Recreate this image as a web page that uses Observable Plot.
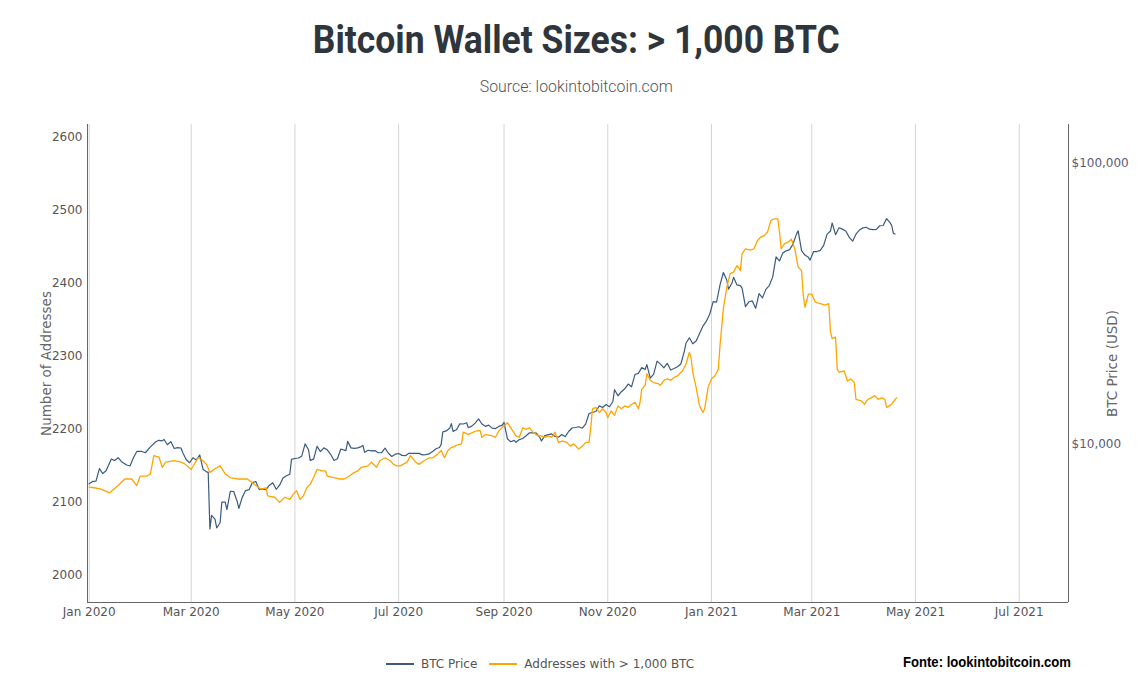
<!DOCTYPE html>
<html>
<head>
<meta charset="utf-8">
<script src="https://cdn.jsdelivr.net/npm/d3@7"></script>
<script src="https://cdn.jsdelivr.net/npm/@observablehq/plot@0.6"></script>
<style>
  html, body { margin: 0; padding: 0; background: #fff; }
  #page { position: relative; width: 1138px; height: 688px; overflow: hidden; background: #fff; }
  .center-row { position: absolute; left: 0; width: 1153px; text-align: center; white-space: nowrap; }
  #title span { display: inline-block; font-family: Roboto, "Liberation Sans", sans-serif; font-weight: 700; font-size: 38px; line-height: 38px; color: #2f353c; transform-origin: center; }
  #subtitle span { display: inline-block; font-family: Roboto, "Liberation Sans", sans-serif; font-weight: 300; font-size: 16px; line-height: 16px; color: #555; transform-origin: center; }
  #chart { position: absolute; left: 0; top: 105px; width: 1138px; height: 530px; }
  #chart svg { position: absolute; left: 0; top: 0; }
  #legend { position: absolute; left: 386px; top: 657px; height: 14px; display: flex; align-items: center; font-family: "DejaVu Sans", Verdana, sans-serif; font-size: 12px; color: #555; white-space: nowrap; }
  #legend .sw { display: inline-block; width: 28px; height: 0; border-top: 2px solid; margin-right: 7px; }
  #legend .item { display: flex; align-items: center; margin-right: 12px; }
  #fonte { position: absolute; left: 903px; top: 654px; font-family: "Liberation Sans Narrow", "Liberation Sans", Arial, sans-serif; font-weight: 700; font-size: 14px; line-height: 16px; color: #000; white-space: nowrap; transform-origin: left center; display: inline-block; }
  svg g[aria-label="y-axis label"], svg g[aria-label="y-axis label"] text { font-size: 13.5px !important; fill: #666 !important; }
</style>
</head>
<body>
<div id="page">
  <div id="title" class="center-row" style="top:21px"><span>Bitcoin Wallet Sizes: &gt; 1,000 BTC</span></div>
  <div id="subtitle" class="center-row" style="top:78px"><span>Source: lookintobitcoin.com</span></div>
  <div id="chart"></div>
  <div id="legend"></div>
  <span id="fonte">Fonte: lookintobitcoin.com</span>
</div>
<script>
// ---------- DATA ----------
const seriesNames = ["BTC Price", "Addresses with > 1,000 BTC"];
const seriesColors = ["#3b5a80", "#ffa500"];

const addrDates = [
"2020-01-01","2020-01-04","2020-01-08","2020-01-13","2020-01-18","2020-01-22","2020-01-26","2020-01-29","2020-01-31","2020-02-04",
"2020-02-06","2020-02-08","2020-02-11","2020-02-13","2020-02-15","2020-02-20","2020-02-24","2020-02-26","2020-03-01","2020-03-05",
"2020-03-07","2020-03-10","2020-03-12","2020-03-15","2020-03-18","2020-03-21","2020-03-24","2020-03-28","2020-04-03","2020-04-07",
"2020-04-11","2020-04-14","2020-04-15","2020-04-19","2020-04-22","2020-04-25","2020-04-28","2020-04-30","2020-05-02","2020-05-04",
"2020-05-06","2020-05-08","2020-05-10","2020-05-12","2020-05-14","2020-05-17","2020-05-19","2020-05-20","2020-05-24","2020-05-27",
"2020-05-30","2020-06-02","2020-06-05","2020-06-07","2020-06-09","2020-06-13","2020-06-15","2020-06-18","2020-06-20","2020-06-23",
"2020-06-26","2020-06-28","2020-06-30","2020-07-02","2020-07-06","2020-07-08","2020-07-11","2020-07-13","2020-07-16","2020-07-19",
"2020-07-21","2020-07-24","2020-07-26","2020-07-28","2020-07-30","2020-08-01","2020-08-04","2020-08-07","2020-08-08","2020-08-11",
"2020-08-14","2020-08-16","2020-08-18","2020-08-19","2020-08-21","2020-08-25","2020-08-27","2020-08-29","2020-09-01","2020-09-03",
"2020-09-05","2020-09-08","2020-09-10","2020-09-12","2020-09-14","2020-09-16","2020-09-18","2020-09-21","2020-09-23","2020-09-25",
"2020-09-27","2020-09-29","2020-10-01","2020-10-03","2020-10-05","2020-10-08","2020-10-10","2020-10-12","2020-10-14","2020-10-15",
"2020-10-17","2020-10-19","2020-10-21","2020-10-22","2020-10-23","2020-10-25","2020-10-27","2020-10-29","2020-10-31","2020-11-01",
"2020-11-03","2020-11-05","2020-11-07","2020-11-09","2020-11-11","2020-11-13","2020-11-15","2020-11-17","2020-11-19","2020-11-20",
"2020-11-21","2020-11-23","2020-11-24","2020-11-26","2020-11-28","2020-12-01","2020-12-02","2020-12-04","2020-12-06","2020-12-08",
"2020-12-10","2020-12-12","2020-12-15","2020-12-17","2020-12-19","2020-12-20","2020-12-21","2020-12-23","2020-12-25","2020-12-27",
"2020-12-28","2020-12-30","2021-01-01","2021-01-03","2021-01-05","2021-01-06","2021-01-08","2021-01-10","2021-01-12","2021-01-14",
"2021-01-16","2021-01-17","2021-01-18","2021-01-19","2021-01-21","2021-01-24","2021-01-26","2021-01-28","2021-01-30","2021-02-01",
"2021-02-03","2021-02-05","2021-02-07","2021-02-09","2021-02-10","2021-02-11","2021-02-13","2021-02-15","2021-02-17","2021-02-19",
"2021-02-21","2021-02-23","2021-02-24","2021-02-25","2021-02-27","2021-03-01","2021-03-03","2021-03-06","2021-03-09","2021-03-11",
"2021-03-12","2021-03-13","2021-03-15","2021-03-16","2021-03-17","2021-03-20","2021-03-22","2021-03-24","2021-03-26","2021-03-27",
"2021-03-30","2021-04-01","2021-04-03","2021-04-05","2021-04-07","2021-04-09","2021-04-11","2021-04-13","2021-04-14","2021-04-17",
"2021-04-19","2021-04-20"
];
const addrValues = [
2121,2120,2118,2113,2123,2132,2132,2123,2136,2136,
2139,2164,2162,2148,2155,2157,2155,2153,2145,2161,
2159,2152,2141,2146,2150,2139,2134,2132,2132,2125,
2118,2120,2109,2107,2100,2107,2104,2111,2116,2104,
2109,2120,2125,2134,2145,2143,2143,2136,2134,2132,
2132,2136,2141,2143,2148,2150,2155,2148,2157,2161,
2157,2152,2150,2150,2155,2164,2155,2152,2157,2161,
2161,2166,2171,2161,2171,2175,2178,2180,2196,2193,
2196,2198,2198,2189,2193,2191,2189,2198,2205,2209,
2202,2191,2189,2202,2200,2202,2196,2191,2191,2189,
2191,2189,2196,2182,2184,2182,2177,2180,2175,2173,
2177,2182,2182,2202,2228,2230,2223,2228,2223,2216,
2225,2219,2232,2228,2232,2230,2234,2237,2228,2237,
2255,2260,2276,2267,2264,2262,2260,2267,2269,2267,
2271,2273,2280,2289,2305,2298,2278,2257,2232,2223,
2228,2257,2269,2273,2282,2314,2365,2394,2413,2415,
2424,2421,2417,2440,2447,2445,2447,2458,2463,2465,
2470,2486,2488,2488,2470,2447,2454,2456,2460,2447,
2422,2417,2383,2367,2385,2385,2374,2372,2370,2372,
2333,2324,2326,2282,2278,2280,2266,2269,2264,2241,
2239,2234,2241,2243,2246,2241,2243,2241,2230,2234,
2241,2243
];

const priceDates = [
"2020-01-01","2020-01-03","2020-01-05","2020-01-07","2020-01-09","2020-01-11","2020-01-14","2020-01-16","2020-01-18","2020-01-20",
"2020-01-23","2020-01-25","2020-01-27","2020-01-29","2020-02-01","2020-02-03","2020-02-06","2020-02-09","2020-02-11","2020-02-13",
"2020-02-14","2020-02-16","2020-02-18","2020-02-20","2020-02-22","2020-02-24","2020-02-25","2020-02-27","2020-02-29","2020-03-02",
"2020-03-04","2020-03-06","2020-03-08","2020-03-10","2020-03-11","2020-03-12","2020-03-13","2020-03-15","2020-03-16","2020-03-18",
"2020-03-19","2020-03-21","2020-03-22","2020-03-24","2020-03-26","2020-03-28","2020-03-29","2020-03-31","2020-04-02","2020-04-04",
"2020-04-06","2020-04-08","2020-04-10","2020-04-12","2020-04-14","2020-04-16","2020-04-18","2020-04-20","2020-04-22","2020-04-24",
"2020-04-26","2020-04-28","2020-04-29","2020-05-01","2020-05-03","2020-05-05","2020-05-07","2020-05-09","2020-05-10","2020-05-12",
"2020-05-14","2020-05-16","2020-05-18","2020-05-20","2020-05-22","2020-05-24","2020-05-26","2020-05-28","2020-05-31","2020-06-01",
"2020-06-03","2020-06-05","2020-06-07","2020-06-09","2020-06-10","2020-06-11","2020-06-13","2020-06-15","2020-06-17","2020-06-19",
"2020-06-21","2020-06-23","2020-06-25","2020-06-27","2020-06-29","2020-07-01","2020-07-03","2020-07-05","2020-07-07","2020-07-09",
"2020-07-11","2020-07-13","2020-07-15","2020-07-17","2020-07-19","2020-07-21","2020-07-23","2020-07-25","2020-07-26","2020-07-27",
"2020-07-29","2020-07-31","2020-08-01","2020-08-02","2020-08-04","2020-08-06","2020-08-08","2020-08-10","2020-08-11","2020-08-13",
"2020-08-15","2020-08-17","2020-08-19","2020-08-21","2020-08-23","2020-08-25","2020-08-27","2020-08-29","2020-08-31","2020-09-01",
"2020-09-03","2020-09-05","2020-09-07","2020-09-08","2020-09-10","2020-09-12","2020-09-14","2020-09-16","2020-09-18","2020-09-20",
"2020-09-22","2020-09-23","2020-09-25","2020-09-27","2020-09-29","2020-10-01","2020-10-03","2020-10-05","2020-10-07","2020-10-09",
"2020-10-11","2020-10-13","2020-10-15","2020-10-17","2020-10-19","2020-10-21","2020-10-23","2020-10-25","2020-10-27","2020-10-29",
"2020-10-31","2020-11-02","2020-11-04","2020-11-05","2020-11-07","2020-11-09","2020-11-11","2020-11-13","2020-11-15","2020-11-17",
"2020-11-19","2020-11-21","2020-11-23","2020-11-24","2020-11-26","2020-11-28","2020-11-30","2020-12-02","2020-12-04","2020-12-06",
"2020-12-08","2020-12-10","2020-12-12","2020-12-14","2020-12-16","2020-12-17","2020-12-19","2020-12-21","2020-12-23","2020-12-25",
"2020-12-27","2020-12-29","2020-12-31","2021-01-02","2021-01-04","2021-01-06","2021-01-08","2021-01-10","2021-01-11","2021-01-13",
"2021-01-14","2021-01-16","2021-01-18","2021-01-19","2021-01-21","2021-01-23","2021-01-25","2021-01-27","2021-01-29","2021-01-31",
"2021-02-02","2021-02-04","2021-02-06","2021-02-08","2021-02-10","2021-02-12","2021-02-14","2021-02-16","2021-02-18","2021-02-20",
"2021-02-21","2021-02-23","2021-02-25","2021-02-27","2021-02-28","2021-03-02","2021-03-04","2021-03-06","2021-03-08","2021-03-10",
"2021-03-12","2021-03-13","2021-03-15","2021-03-17","2021-03-19","2021-03-21","2021-03-23","2021-03-25","2021-03-27","2021-03-29",
"2021-03-31","2021-04-02","2021-04-04","2021-04-06","2021-04-08","2021-04-10","2021-04-12","2021-04-14","2021-04-16","2021-04-17",
"2021-04-18","2021-04-19"
];
const priceValues = [
7200,7340,7360,8160,7830,8030,8820,8720,8920,8630,
8400,8330,8910,9390,9390,9290,9750,10150,10290,10240,
10360,9920,10180,9620,9690,9660,9310,8790,8560,8910,
8760,9120,8110,7940,7910,4970,5560,5390,5010,5230,
6190,6190,5830,6770,6760,6240,5880,6440,6810,6860,
7270,7340,6870,6910,6860,7120,7260,6880,7120,7550,
7690,7790,8800,8860,8900,9030,9990,9520,8730,8820,
9790,9380,9670,9520,9170,8720,8840,9580,9450,10200,
9670,9630,9670,9770,9870,9320,9480,9430,9460,9290,
9300,9650,9250,9010,9180,9230,9090,9070,9250,9240,
9240,9240,9130,9150,9210,9390,9600,9700,9930,11030,
11110,11350,11800,11070,11220,11770,11760,11880,11410,11560,
11850,12260,11760,11540,11650,11370,11330,11530,11650,11920,
10400,10170,10280,10120,10350,10440,10680,10940,10930,10920,
10530,10240,10690,10780,10840,10620,10550,10790,10600,11060,
11380,11430,11500,11360,11750,12820,12930,13030,13650,13460,
13800,13550,14150,15590,14830,15330,15700,16320,15960,17650,
17820,18680,18400,19150,17150,17720,19700,19220,18650,19360,
18320,18540,18810,19250,21310,22810,23870,22720,23240,24710,
26270,27360,28990,32130,31970,36770,40780,38350,35570,37320,
39190,36820,36630,35890,30820,32070,32290,30400,34270,33110,
35510,36630,39260,46380,44840,47910,48720,49200,51590,55890,
57410,48820,47070,46190,45140,48370,48440,48890,50970,55890,
57330,61240,55620,58870,58230,57350,54530,52720,55840,57750,
58800,59130,58190,57990,58110,59860,59980,63500,61370,60080,
56220,55950
];

const addrTicks = [2000, 2100, 2200, 2300, 2400, 2500, 2600];
const priceTicks = [10000, 100000];

// ---------- SCALES / LAYOUT ----------
const W = 1138, H = 530;
const M = {left: 87, right: 70, top: 19, bottom: 33};
const xDomain = [new Date("2019-12-31"), new Date("2021-07-30")];
const addrDomain = [1963, 2617];
const priceDomain = [2718, 137400];
const monthTicks = d3.utcMonth.every(2).range(new Date("2020-01-01"), xDomain[1]);

const addr = addrDates.map((d, i) => ({date: new Date(d), value: addrValues[i]}));
const price = priceDates.map((d, i) => ({date: new Date(d), value: priceValues[i]}));

const common = {
  width: W, height: H,
  marginLeft: M.left, marginRight: M.right, marginTop: M.top, marginBottom: M.bottom,
  style: {fontFamily: "'DejaVu Sans', Verdana, sans-serif", fontSize: "12px", color: "#555", background: "transparent", overflow: "visible"}
};

// bottom layer: grid, x axis, right log axis, BTC price
const pricePlot = Plot.plot({
  ...common,
  x: {type: "utc", domain: xDomain},
  y: {type: "log", domain: priceDomain},
  marks: [
    Plot.gridX(monthTicks, {stroke: "#d4d4d4", strokeOpacity: 1}),
    Plot.axisX(monthTicks, {tickSize: 0, tickPadding: 5, tickFormat: d3.utcFormat("%b %Y"), label: null, fill: "#555"}),
    Plot.axisY(priceTicks, {anchor: "right", tickSize: 0, tickPadding: 3, fill: "#5a5a78",
      tickFormat: d => "$" + d3.format(",")(d), label: null}),
    Plot.axisY(priceTicks, {anchor: "right", tickSize: 0, tickFormat: () => "", 
      label: "BTC Price (USD)", labelArrow: "none", labelAnchor: "center", labelOffset: 48}),
    Plot.lineY(price, {x: "date", y: "value", stroke: seriesColors[0], strokeWidth: 1.2})
  ]
});

// top layer: left linear axis, frame lines, addresses
const addrPlot = Plot.plot({
  ...common,
  x: {type: "utc", domain: xDomain, axis: null},
  y: {domain: addrDomain},
  marks: [
    Plot.axisY(addrTicks, {tickSize: 0, tickPadding: 5, fill: "#555", tickFormat: d => String(d), label: null}),
    Plot.axisY(addrTicks, {tickSize: 0, tickFormat: () => "",
      label: "Number of Addresses", labelArrow: "none", labelAnchor: "center", labelOffset: 46}),
    Plot.ruleY([addrDomain[0]], {stroke: "#666", strokeWidth: 1}),
    Plot.ruleX([xDomain[0], xDomain[1]], {stroke: "#666", strokeWidth: 1}),
    Plot.lineY(addr, {x: "date", y: "value", stroke: seriesColors[1], strokeWidth: 1.3})
  ]
});

const chart = document.getElementById("chart");
chart.appendChild(pricePlot);
chart.appendChild(addrPlot);

// strip any label arrow that older Plot builds add
document.querySelectorAll('#chart g[aria-label="y-axis label"] text').forEach(t => {
  t.textContent = t.textContent.replace(/[\u2191\u2193]\s*|\s*[\u2191\u2193]/g, "");
});

// legend
const legend = document.getElementById("legend");
seriesNames.forEach((name, i) => {
  const item = document.createElement("span");
  item.className = "item";
  const sw = document.createElement("span");
  sw.className = "sw";
  sw.style.borderTopColor = seriesColors[i];
  const t = document.createElement("span");
  t.textContent = name;
  item.appendChild(sw); item.appendChild(t);
  legend.appendChild(item);
});

// fit header/footer text widths
function fit(el, target) {
  const w = el.getBoundingClientRect().width;
  if (w > 0) el.style.transform = `scaleX(${target / w})`;
}
fit(document.querySelector("#title span"), 527);
fit(document.querySelector("#subtitle span"), 193);
fit(document.getElementById("fonte"), 168);
</script>
</body>
</html>
